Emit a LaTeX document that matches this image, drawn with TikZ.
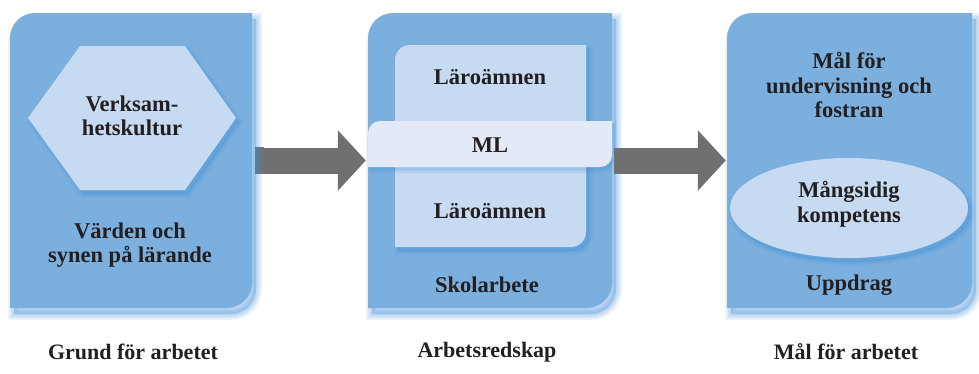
\documentclass[tikz,border=0pt]{standalone}
\usepackage{fontspec}
\setmainfont{Liberation Serif}
\usetikzlibrary{calc,shapes.geometric,arrows.meta}
\definecolor{boxblue}{HTML}{7BAFDE}
\definecolor{paleblue}{HTML}{C6DAF2}
\definecolor{mlblue}{HTML}{E2EAF7}
\definecolor{shadowblue}{HTML}{3D8FDA}
\definecolor{arrowgray}{HTML}{707070}
\definecolor{arrowblue}{HTML}{5A7E9C}
\definecolor{ink}{HTML}{231F20}
\begin{document}
\begin{tikzpicture}[x=1pt,y=-1pt,
  txt/.style={font=\bfseries\fontsize{22.5}{24.5}\selectfont, text=ink, align=center, inner sep=0},
  lbl/.style={font=\bfseries\fontsize{22}{24}\selectfont, text=ink, inner sep=0},
  glow/.style={shadowblue, opacity=0.09},
  bigarrow/.style={draw=arrowgray, line width=26pt, -{Triangle[length=28pt,width=59pt]}}]
\useasboundingbox (0,0) rectangle (979,373);
\fill[white] (0,0) rectangle (979,373);
% panels
\foreach \l/\r/\n in {10/252/b1,368/612/b2,727/972/b3}{
  \foreach \w in {12,9,6,3}{
    \filldraw[glow, line width=\w pt, shift={(4,6)}] (\l,308) [rounded corners=25pt] -- (\l,13) [sharp corners] -- (\r,13) [rounded corners=25pt] -- (\r,308) [sharp corners] -- cycle;
  }
  \fill[boxblue] (\l,308) [rounded corners=25pt] -- (\l,13) [sharp corners] -- (\r,13) [rounded corners=25pt] -- (\r,308) [sharp corners] -- cycle;
  \node[inner sep=0, minimum width={\r-\l}, minimum height=295] (\n) at ({(\l+\r)/2},160.5) {};
}
% hexagon
\foreach \w in {8,5,2}{
  \filldraw[glow, line width=\w pt, shift={(3,4)}] (28,118) -- (80,46) -- (185,46) -- (236,118) -- (185,190) -- (80,190) -- cycle;
}
\fill[paleblue] (28,118) -- (80,46) -- (185,46) -- (236,118) -- (185,190) -- (80,190) -- cycle;
\node[txt] (hex) at (132,116) {Verksam-\\hetskultur};
\node[txt] (vard) at (130,245) {Värden och\\synen på lärande};
% panel 2
\foreach \w in {8,5,2}{
  \filldraw[glow, line width=\w pt, shift={(3,4)}] (395,247) [rounded corners=15pt] -- (395,45) [sharp corners] -- (586,45) [rounded corners=15pt] -- (586,247) [sharp corners] -- cycle;
}
\fill[paleblue] (395,247) [rounded corners=15pt] -- (395,45) [sharp corners] -- (586,45) [rounded corners=15pt] -- (586,247) [sharp corners] -- cycle;
\foreach \w in {6,3}{
  \filldraw[glow, line width=\w pt, shift={(2,3)}] (368,167) [rounded corners=12pt] -- (368,121) [sharp corners] -- (612,121) [rounded corners=12pt] -- (612,167) [sharp corners] -- cycle;
}
\fill[mlblue] (368,167) [rounded corners=12pt] -- (368,121) [sharp corners] -- (612,121) [rounded corners=12pt] -- (612,167) [sharp corners] -- cycle;
\node[txt] (la1) at (490,77) {Läroämnen};
\node[txt] (ml) at (490,145) {ML};
\node[txt] (la2) at (490,211) {Läroämnen};
\node[txt] (sko) at (487,285) {Skolarbete};
% panel 3
\node[txt] (mal) at (849,85) {Mål för\\undervisning och\\fostran};
\foreach \w in {8,5,2}{
  \node[ellipse, draw=shadowblue, fill=shadowblue, opacity=0.09, line width=\w pt, minimum width=238, minimum height=100, inner sep=0] at (852,212) {};
}
\node[ellipse, fill=paleblue, minimum width=238, minimum height=100, inner sep=0] (ell) at (849,208) {};
\node[txt] (mang) at (849,204) {Mångsidig\\kompetens};
\node[txt] (upp) at (849,285) {Uppdrag};
% arrows
\draw[bigarrow] ($(b1.east)+(3,0)$) -- ($(b2.west)+(-2,0)$);
\draw[bigarrow] ($(b2.east)+(2,0)$) -- ($(b3.west)+(-1,0)$);
\shade[left color=arrowblue, right color=arrowgray] ($(b1.east)+(3,-13)$) rectangle ($(b1.east)+(12,13)$);
% bottom labels
\node[lbl] (g) at (133,352) {Grund för arbetet};
\node[lbl] (a) at (487,352) {Arbetsredskap};
\node[lbl] (m) at (846,352) {Mål för arbetet};
\end{tikzpicture}
\end{document}
